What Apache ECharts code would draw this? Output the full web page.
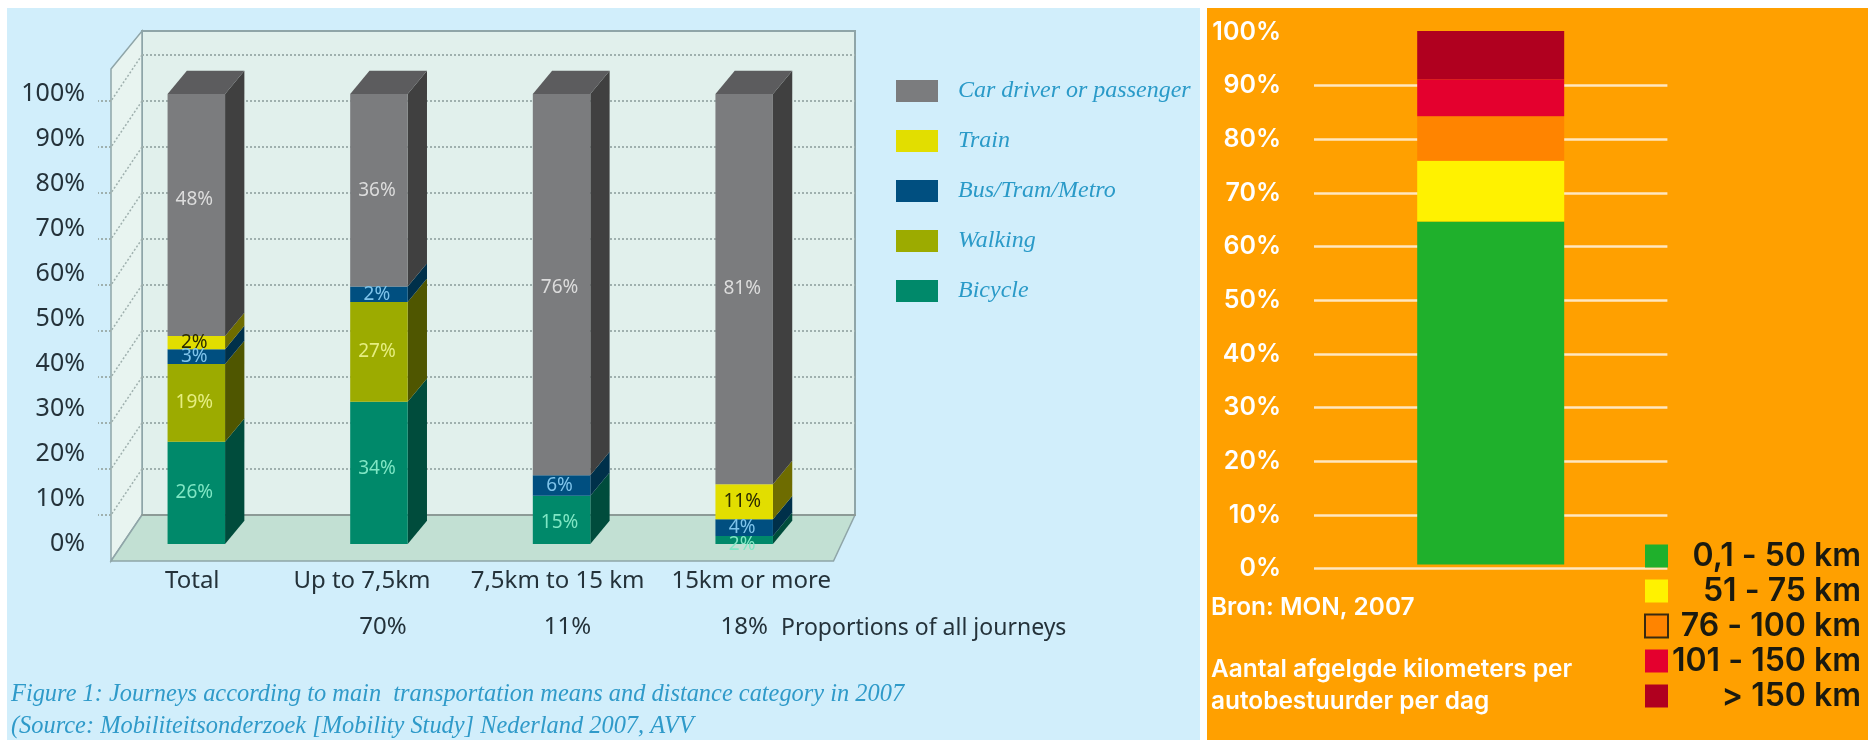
<!DOCTYPE html>
<html>
<head>
<meta charset="utf-8">
<style>
  html, body { margin: 0; padding: 0; background: #fff; }
  #chart { width: 1868px; height: 740px; }
</style>
<script src="https://cdn.jsdelivr.net/npm/echarts@6/dist/echarts.min.js"></script>
</head>
<body>
<div id="chart"></div>
<script>
// left chart: heights are what the bars show, labels are what is printed on them (they differ)
const categories = ['Total', 'Up to 7,5km', '7,5km to 15 km', '15km or more'];
const shares = ['', '70%', '11%', '18%'];
const bicycle = [22.7, 31.6, 10.7, 1.8];
const walking = [17.3, 22.2, 0, 0];
const bus = [3.3, 3.4, 4.6, 3.7];
const train = [2.9, 0, 0, 7.8];
const car = [53.8, 42.8, 84.7, 86.7];
const bicycleLabels = ['26%', '34%', '15%', '2%'];
const walkingLabels = ['19%', '27%', '', ''];
const busLabels = ['3%', '2%', '6%', '4%'];
const trainLabels = ['2%', '', '', '11%'];
const carLabels = ['48%', '36%', '76%', '81%'];
const wallTicks = [10, 20, 30, 40, 50, 60, 70, 80, 90, 100];

// right chart
const kmBase = [0.8];
const km0to50 = [63.9];
const km51to75 = [11.3];
const km76to100 = [8.3];
const km101to150 = [6.9];
const kmOver150 = [9.0];

const barW = 57.5;
const depthX = 19.3;
const depthY = -23.3;
const sansFont = '"Noto Sans", sans-serif';
const serifFont = '"Liberation Serif", serif';
const rightFont = 'Inter, sans-serif';
const axisText = '#24323a';

const chart = echarts.init(document.getElementById('chart'), null, { renderer: 'canvas' });

// one stacked segment drawn as front + side (+ top for the last one)
function segment3d(name, values, labels, colors, prev, isTop, labelShift) {
  const data = values.map((v, i) => {
    const start = prev.reduce((sum, arr) => sum + arr[i], 0);
    return [i, start, start + v];
  });
  return {
    name,
    type: 'custom',
    xAxisIndex: 0,
    yAxisIndex: 0,
    itemStyle: { color: colors.front },
    encode: { x: 0, y: [1, 2] },
    data,
    z: 5,
    renderItem: (params, api) => {
      const lo = api.coord([api.value(0), api.value(1)]);
      const hi = api.coord([api.value(0), api.value(2)]);
      const x0 = lo[0] - barW / 2;
      const x1 = lo[0] + barW / 2;
      const children = [];
      if (hi[1] < lo[1]) {
        children.push({
          type: 'polygon',
          shape: { points: [[x1, lo[1]], [x1 + depthX, lo[1] + depthY], [x1 + depthX, hi[1] + depthY], [x1, hi[1]]] },
          style: { fill: colors.side }
        });
        children.push({
          type: 'rect',
          shape: { x: x0, y: hi[1], width: barW, height: lo[1] - hi[1] },
          style: { fill: colors.front }
        });
      }
      if (isTop) {
        children.push({
          type: 'polygon',
          shape: { points: [[x0, hi[1]], [x1, hi[1]], [x1 + depthX, hi[1] + depthY], [x0 + depthX, hi[1] + depthY]] },
          style: { fill: colors.top }
        });
      }
      const text = labels[params.dataIndex];
      if (text) {
        children.push({
          type: 'text',
          z2: 10,
          style: {
            text,
            x: lo[0] - 2,
            y: (lo[1] + hi[1]) / 2 + (labelShift ? labelShift[params.dataIndex] : 0),
            align: 'center',
            verticalAlign: 'middle',
            fill: colors.label,
            font: '19px ' + sansFont
          }
        });
      }
      return { type: 'group', children };
    }
  };
}

function note(text, x, y, fill, font) {
  return { type: 'text', z: 4, style: { text, x, y, fill, font, verticalAlign: 'middle' } };
}

const wallLine = '#8fa5a8';

const option = {
  backgroundColor: '#ffffff',
  animation: false,
  grid: [
    { left: 105, width: 730.5, top: 94, height: 450 },
    { left: 142, width: 713, top: 55, height: 460 },
    { left: 1314, width: 353.4, top: 32, height: 536.7 }
  ],
  xAxis: [
    {
      type: 'category',
      gridIndex: 0,
      data: categories,
      axisLine: { show: false },
      axisTick: { show: false },
      axisLabel: {
        interval: 0,
        margin: 25,
        // the printed labels do not sit exactly under their bars
        formatter: (v, i) => `{c${i}|${v}}`,
        rich: {
          c0: { fontSize: 24, fontFamily: sansFont, color: axisText, padding: [0, 8, 0, 0] },
          c1: { fontSize: 24, fontFamily: sansFont, color: axisText, padding: [0, 34, 0, 0] },
          c2: { fontSize: 24, fontFamily: sansFont, color: axisText, padding: [0, 8, 0, 0] },
          c3: { fontSize: 24, fontFamily: sansFont, color: axisText, padding: [0, 0, 0, 14] }
        }
      }
    },
    {
      type: 'category',
      gridIndex: 0,
      position: 'bottom',
      data: shares,
      axisLine: { show: false },
      axisTick: { show: false },
      axisLabel: {
        interval: 0,
        margin: 71,
        formatter: (v, i) => `{s${i}|${v}}`,
        rich: {
          s0: { fontSize: 24, fontFamily: sansFont, color: axisText },
          s1: { fontSize: 24, fontFamily: sansFont, color: axisText, padding: [0, 0, 0, 8] },
          s2: { fontSize: 24, fontFamily: sansFont, color: axisText, padding: [0, 0, 0, 12] },
          s3: { fontSize: 24, fontFamily: sansFont, color: axisText }
        }
      }
    },
    {
      type: 'category',
      gridIndex: 1,
      data: ['wall'],
      axisLine: { show: true, lineStyle: { color: '#8c9a96', width: 2 } },
      axisTick: { show: false },
      axisLabel: { show: false }
    },
    {
      type: 'category',
      gridIndex: 2,
      data: ['km'],
      axisLine: { show: false },
      axisTick: { show: false },
      axisLabel: { show: false }
    }
  ],
  yAxis: [
    {
      type: 'value',
      gridIndex: 0,
      min: 0,
      max: 100,
      interval: 10,
      axisLine: { show: false },
      axisTick: { show: false },
      splitLine: { show: false },
      axisLabel: { margin: 20, formatter: '{value}%', fontFamily: sansFont, fontSize: 25, color: axisText }
    },
    {
      type: 'value',
      gridIndex: 1,
      min: 0,
      max: 100,
      interval: 10,
      axisLine: { show: false },
      axisTick: { show: false },
      axisLabel: { show: false },
      splitLine: { show: true, lineStyle: { color: '#9fb0ae', type: 'dotted', width: 2 } }
    },
    {
      type: 'value',
      gridIndex: 2,
      min: 0,
      max: 100,
      interval: 10,
      axisLine: { show: false },
      axisTick: { show: false },
      axisLabel: { margin: 33, formatter: '{value}%', fontFamily: rightFont, fontWeight: 600, fontSize: 25, color: '#ffffff' },
      splitLine: { show: true, showMaxLine: false, lineStyle: { color: '#ffe7c0', width: 2.5 } }
    }
  ],
  legend: [
    {
      left: 891,
      top: 74,
      orient: 'vertical',
      itemWidth: 42,
      itemHeight: 22,
      itemGap: 26,
      icon: 'rect',
      selectedMode: false,
      data: ['Car driver or passenger', 'Train', 'Bus/Tram/Metro', 'Walking', 'Bicycle'],
      textStyle: { fontFamily: serifFont, fontStyle: 'italic', fontSize: 24, color: '#2a9ac8', padding: [0, 0, 0, 15] }
    },
    {
      left: 1639,
      top: 535,
      orient: 'vertical',
      itemWidth: 23,
      itemHeight: 23,
      itemGap: 3,
      icon: 'rect',
      selectedMode: false,
      data: [
        { name: '0,1 - 50 km' },
        { name: '51 - 75 km' },
        { name: '76 - 100 km', itemStyle: { borderColor: '#3a2a10', borderWidth: 2 } },
        { name: '101 - 150 km' },
        { name: '> 150 km' }
      ],
      formatter: (name) => `{a|${name}}`,
      textStyle: {
        rich: {
          a: { width: 188, align: 'right', fontFamily: rightFont, fontWeight: 600, fontSize: 32, color: '#1a1a10', height: 23 }
        }
      }
    }
  ],
  series: [
    {
      name: 'wallTicks',
      type: 'custom',
      xAxisIndex: 2,
      yAxisIndex: 1,
      silent: true,
      z: 1,
      data: wallTicks.map((v) => [0, v]),
      encode: { x: 0, y: 1 },
      renderItem: (params, api) => {
        const y = api.coord([0, api.value(1)])[1];
        const x = params.coordSys.x;
        return {
          type: 'group',
          children: [
            {
              type: 'polyline',
              shape: { points: [[x, y], [x - 31, y + 46]] },
              style: { stroke: '#9fb0ae', lineWidth: 1.5, lineDash: [2, 2], fill: null }
            },
            {
              type: 'polyline',
              shape: { points: [[x - 31, y + 46], [x - 44, y + 46]] },
              style: { stroke: '#9fb0ae', lineWidth: 2, lineDash: [2, 2], fill: null }
            }
          ]
        };
      }
    },
    segment3d('Bicycle', bicycle, bicycleLabels,
      { front: '#00896a', side: '#004c3c', label: '#7fe6c4' }, [], false, [0, -4, 3, 5]),
    segment3d('Walking', walking, walkingLabels,
      { front: '#9cab00', side: '#4f5600', label: '#e6ee80' }, [bicycle], false),
    segment3d('Bus/Tram/Metro', bus, busLabels,
      { front: '#004f80', side: '#00304a', label: '#7fc4ea' }, [bicycle, walking], false),
    segment3d('Train', train, trainLabels,
      { front: '#e2de00', side: '#6e6c00', label: '#2b2b00' }, [bicycle, walking, bus], false),
    segment3d('Car driver or passenger', car, carLabels,
      { front: '#7b7c7e', side: '#404040', top: '#5c5c5e', label: '#dcdcdc' }, [bicycle, walking, bus, train], true, [-15, 0, 3, 0]),
    {
      name: 'base',
      type: 'bar',
      stack: 'km',
      xAxisIndex: 3,
      yAxisIndex: 2,
      barWidth: 147,
      clip: false,
      silent: true,
      itemStyle: { color: 'transparent' },
      data: kmBase
    },
    { name: '0,1 - 50 km', type: 'bar', stack: 'km', xAxisIndex: 3, yAxisIndex: 2, barWidth: 147, clip: false, itemStyle: { color: '#1fb02c' }, data: km0to50 },
    { name: '51 - 75 km', type: 'bar', stack: 'km', xAxisIndex: 3, yAxisIndex: 2, barWidth: 147, clip: false, itemStyle: { color: '#fff200' }, data: km51to75 },
    { name: '76 - 100 km', type: 'bar', stack: 'km', xAxisIndex: 3, yAxisIndex: 2, barWidth: 147, clip: false, itemStyle: { color: '#ff8400' }, data: km76to100 },
    { name: '101 - 150 km', type: 'bar', stack: 'km', xAxisIndex: 3, yAxisIndex: 2, barWidth: 147, clip: false, itemStyle: { color: '#e4002e' }, data: km101to150 },
    { name: '> 150 km', type: 'bar', stack: 'km', xAxisIndex: 3, yAxisIndex: 2, barWidth: 147, clip: false, itemStyle: { color: '#b0001f' }, data: kmOver150 }
  ],
  graphic: [
    // panels behind the two charts
    { type: 'rect', z: -10, shape: { x: 7, y: 8, width: 1193, height: 732 }, style: { fill: '#d1eefb' } },
    { type: 'rect', z: -10, shape: { x: 1207, y: 8, width: 661, height: 732 }, style: { fill: '#ffa000' } },
    // 3d box of the left chart
    { type: 'rect', z: -9, shape: { x: 142, y: 31, width: 713, height: 484 }, style: { fill: '#e1f0ec', stroke: wallLine, lineWidth: 2 } },
    { type: 'polygon', z: -9, shape: { points: [[111, 69], [142, 31], [142, 515], [111, 561]] }, style: { fill: '#e8f4f0', stroke: wallLine, lineWidth: 1.5 } },
    { type: 'polygon', z: -9, shape: { points: [[142, 515], [855, 515], [833.5, 561], [111, 561]] }, style: { fill: '#c2e0d3', stroke: wallLine, lineWidth: 1.5 } },
    note('Proportions of all journeys', 781, 628, axisText, '23px ' + sansFont),
    note('Figure 1: Journeys according to main  transportation means and distance category in 2007', 11, 695, '#2f9ac9', 'italic 24.4px ' + serifFont),
    note('(Source: Mobiliteitsonderzoek [Mobility Study] Nederland 2007, AVV', 11, 727, '#2f9ac9', 'italic 24.4px ' + serifFont),
    note('Bron: MON, 2007', 1211, 608, '#ffffff', '600 24.4px ' + rightFont),
    note('Aantal afgelgde kilometers per', 1211, 670, '#ffffff', '600 24.4px ' + rightFont),
    note('autobestuurder per dag', 1211, 702, '#ffffff', '600 24.4px ' + rightFont)
  ]
};

chart.setOption(option);
window.addEventListener('resize', () => chart.resize());
</script>
</body>
</html>
